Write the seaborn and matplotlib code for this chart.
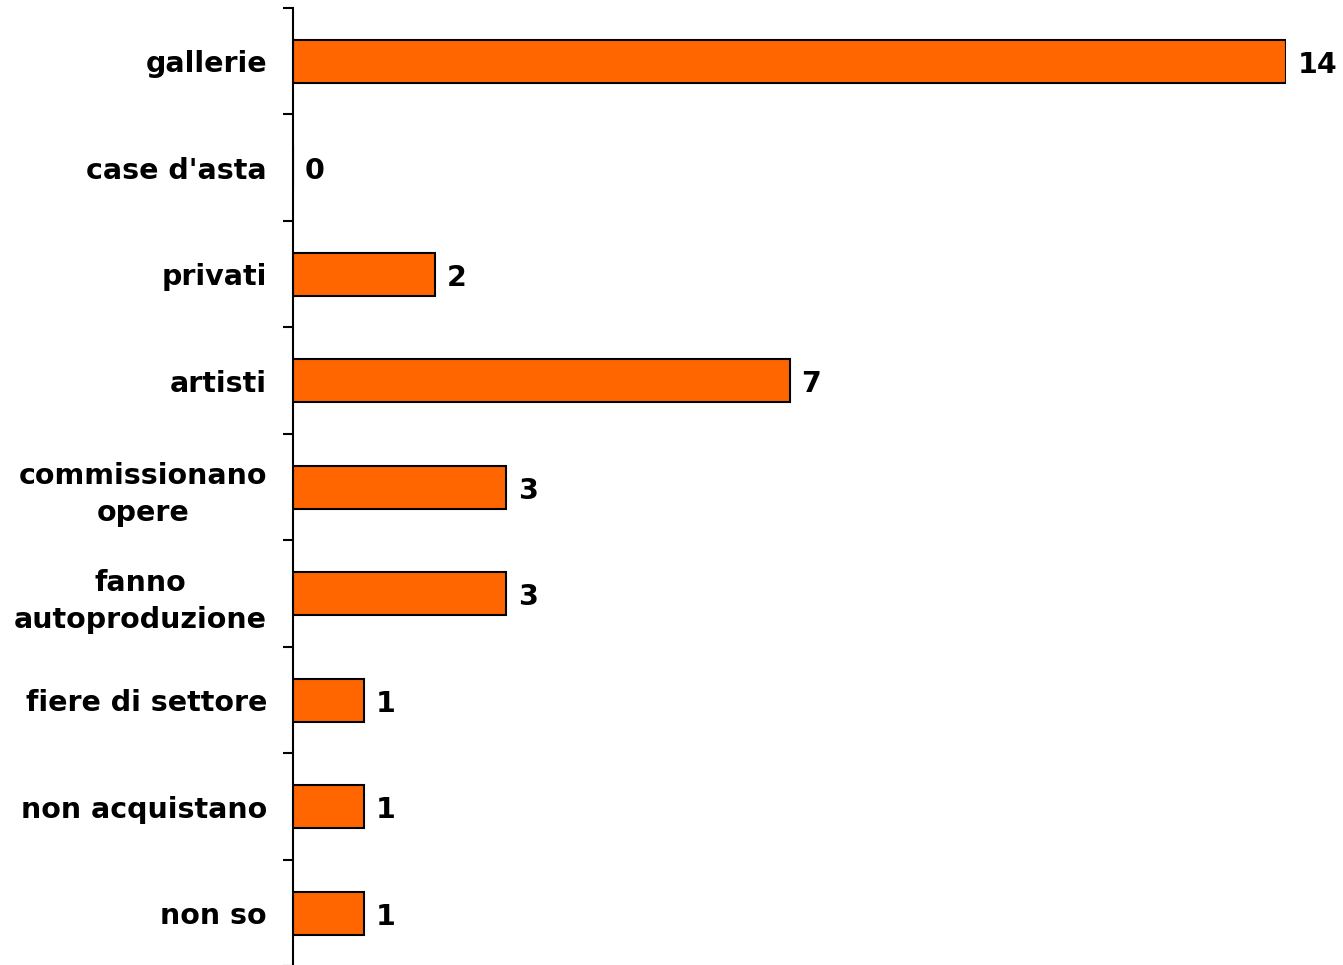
import numpy as np
import matplotlib
matplotlib.use("Agg")
import matplotlib.pyplot as plt
import seaborn as sns

# dati
categorie = ["gallerie", "case d'asta", "privati", "artisti",
             "commissionano\nopere", "fanno\nautoproduzione",
             "fiere di settore", "non acquistano", "non so"]
valori = [14, 0, 2, 7, 3, 3, 1, 1, 1]

sns.set_style("white")
plt.rcParams['font.family'] = ['DejaVu Sans']
plt.rcParams['text.color'] = 'black'
plt.rcParams['ytick.color'] = 'black'
plt.rcParams['ytick.labelcolor'] = 'black'

fig = plt.figure(figsize=(13.43, 9.65), dpi=100)
ax = fig.add_axes([293/1343, -1.5/965, (1286-293)/1343, (965-8+1.5)/965])

sns.barplot(x=valori, y=categorie, orient="h", color="#FF6600",
            edgecolor="black", linewidth=1.5, width=0.4, saturation=1, ax=ax)

etichette = ax.bar_label(ax.containers[0], padding=8.6, fontsize=20.5,
                         fontweight="bold", color="black", clip_on=False)
# numeri un po' piu' in basso
for t in etichette:
    t.xyann = (t.xyann[0], t.xyann[1] - 2.5)

ax.set_xlim(0, 14)
ax.set_ylim(8.5, -0.5)
ax.set_xlabel("")
ax.set_ylabel("")

for s in ["top", "right", "bottom"]:
    ax.spines[s].set_visible(False)
ax.spines["left"].set_linewidth(1.5)
ax.spines["left"].set_color("black")

ax.set_xticks([])
ax.set_yticks(np.arange(-0.5, 9, 1), minor=True)
ax.tick_params(axis="y", which="major", left=True, length=0, pad=18.7)
ax.tick_params(axis="y", which="minor", left=True, length=7, width=1.5,
               color="black", direction="out")
for lab in ax.get_yticklabels():
    lab.set_fontsize(20.5)
    lab.set_fontweight("bold")
    lab.set_color("black")
    lab.set_multialignment("center")
    lab.set_linespacing(1.4)

fig.savefig("out.png", dpi=100)
